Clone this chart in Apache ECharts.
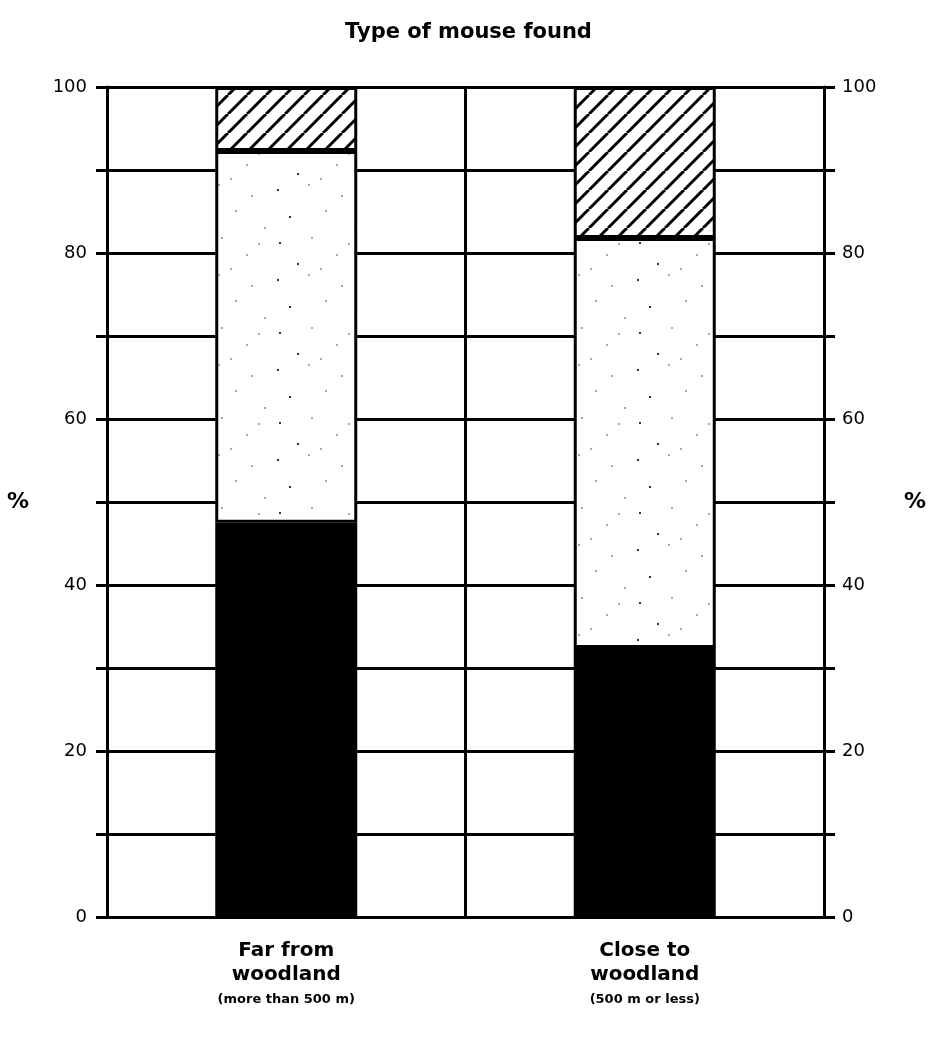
<!DOCTYPE html>
<html><head><meta charset="utf-8">
<script src="https://cdn.jsdelivr.net/npm/echarts@6/dist/echarts.min.js"></script>
<style>html,body{margin:0;padding:0;background:#fff}#c{width:937px;height:1045px}</style>
</head><body><div id="c"></div>
<script>
var categories = ['Far from\nwoodland', 'Close to\nwoodland'];
var subLabels = ['(more than 500 m)', '(500 m or less)'];
var solidValues = [47.5, 32.4];
var stippleValues = [44.8, 49.4];
var hatchValues = [7.7, 18.2];
var yTicks = [0, 20, 40, 60, 80, 100];

function hatchPattern() {
  var s = 19, c = document.createElement('canvas');
  c.width = s; c.height = s;
  var g = c.getContext('2d');
  g.fillStyle = '#fff'; g.fillRect(0, 0, s, s);
  g.strokeStyle = '#000'; g.lineWidth = 3;
  [-s, 0, s].forEach(function (o) {
    g.beginPath(); g.moveTo(o, s); g.lineTo(o + s, 0); g.stroke();
  });
  return c;
}
function stipplePattern() {
  var s = 90, c = document.createElement('canvas');
  c.width = s; c.height = s;
  var g = c.getContext('2d');
  g.fillStyle = '#fff'; g.fillRect(0, 0, s, s);
  var dots = [[7,9],[38,4],[71,15],[19,36],[55,30],[84,47],[9,62],[41,57],[66,74],[27,83],[50,88],[78,63]];
  dots.forEach(function (d, i) {
    g.fillStyle = i % 3 === 0 ? '#333' : '#a8a8a8';
    g.fillRect(d[0], d[1], 2, 2);
  });
  return c;
}

var chart = echarts.init(document.getElementById('c'));
var font = '"DejaVu Sans", "Liberation Sans", sans-serif';
var yAxisCommon = {
  type: 'value', min: 0, max: 100, interval: 10,
  axisLine: { show: true, lineStyle: { color: '#000', width: 3 } },
  axisTick: { show: true, inside: false, length: 11, lineStyle: { color: '#000', width: 3 } },
  splitLine: { show: true, lineStyle: { color: '#000', width: 3 } },
  axisLabel: {
    color: '#000', fontSize: 18, fontFamily: font,
    formatter: function (v) { return yTicks.indexOf(v) >= 0 ? String(v) : ''; }
  },
  nameLocation: 'middle', nameRotate: 0,
  nameTextStyle: { color: '#000', fontSize: 22, fontFamily: font, fontWeight: 'bold' }
};
var barBorder = { borderColor: '#000', borderWidth: 3 };
chart.setOption({
  animation: false,
  backgroundColor: '#fff',
  title: {
    text: 'Type of mouse found', left: 'center', top: 17,
    textStyle: { color: '#000', fontSize: 21, fontWeight: 'bold', fontFamily: font }
  },
  grid: { left: 107, right: 113, top: 87, bottom: 128 },
  xAxis: {
    type: 'category', data: categories,
    axisLine: { show: true, lineStyle: { color: '#000', width: 3 } },
    axisTick: { show: false },
    splitLine: { show: true, lineStyle: { color: '#000', width: 3 } },
    axisLabel: {
      margin: 22, interval: 0, fontFamily: font,
      formatter: function (v, i) { return '{m|' + v + '}\n{s|' + subLabels[i] + '}'; },
      rich: {
        m: { fontSize: 20, fontWeight: 'bold', color: '#000', lineHeight: 24, fontFamily: font },
        s: { fontSize: 13, fontWeight: 'bold', color: '#000', lineHeight: 26, fontFamily: font }
      }
    }
  },
  yAxis: [
    Object.assign({}, yAxisCommon, { position: 'left', name: '%', nameGap: 78,
      axisLabel: Object.assign({}, yAxisCommon.axisLabel, { margin: 20 }) }),
    Object.assign({}, yAxisCommon, { position: 'right', name: '%', nameGap: 80,
      splitLine: { show: false },
      axisLabel: Object.assign({}, yAxisCommon.axisLabel, { margin: 18 }) })
  ],
  series: [
    { type: 'bar', stack: 's', data: solidValues, barWidth: 142,
      itemStyle: Object.assign({ color: '#000' }, barBorder) },
    { type: 'bar', stack: 's', data: stippleValues, barWidth: 142,
      itemStyle: Object.assign({ color: { image: stipplePattern(), repeat: 'repeat' } }, barBorder) },
    { type: 'bar', stack: 's', data: hatchValues, barWidth: 142,
      itemStyle: Object.assign({ color: { image: hatchPattern(), repeat: 'repeat' } }, barBorder) }
  ]
});
</script></body></html>
